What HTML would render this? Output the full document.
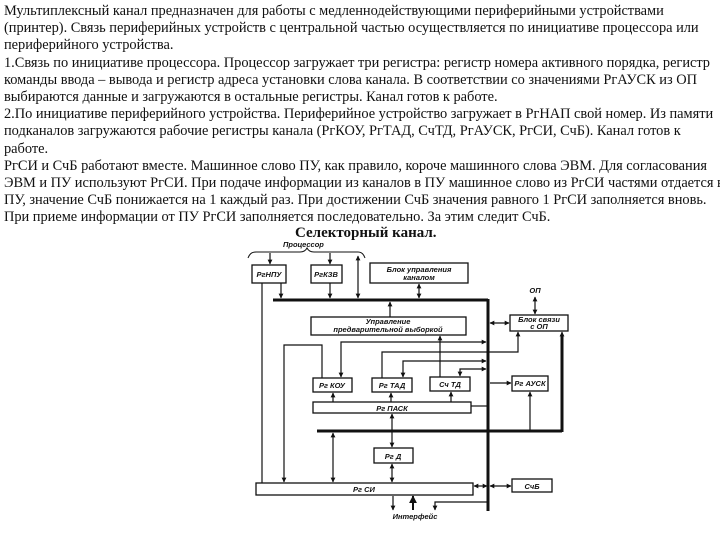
<!DOCTYPE html>
<html><head><meta charset="utf-8"><style>
html,body{margin:0;padding:0;background:#fff;width:720px;height:540px;overflow:hidden}
#t{position:absolute;left:4px;top:3px;font-family:"Liberation Serif","Noto Serif CJK SC",serif;font-size:14.4px;line-height:17.2px;color:#111;white-space:nowrap;letter-spacing:-0.02px}
svg{position:absolute;left:0;top:0}
.l{font-family:"Liberation Sans",sans-serif;font-style:italic;font-weight:bold;font-size:7.5px;fill:#111}
</style></head><body>
<div id="t">Мультиплексный канал предназначен для работы с медленнодействующими периферийными устройствами<br>(принтер). Связь периферийных устройств с центральной частью осуществляется по инициативе процессора или<br>периферийного устройства.<br>1.Связь по инициативе процессора. Процессор загружает три регистра: регистр номера активного порядка, регистр<br>команды ввода – вывода и регистр адреса установки слова канала. В соответствии со значениями РгАУСК из ОП<br>выбираются данные и загружаются в остальные регистры. Канал готов к работе.<br>2.По инициативе периферийного устройства. Периферийное устройство загружает в РгНАП свой номер. Из памяти<br>подканалов загружаются рабочие регистры канала (РгКОУ, РгТАД, СчТД, РгАУСК, РгСИ, СчБ). Канал готов к<br>работе.<br>РгСИ и СчБ работают вместе. Машинное слово ПУ, как правило, короче машинного слова ЭВМ. Для согласования<br>ЭВМ и ПУ используют РгСИ. При подаче информации из каналов в ПУ машинное слово из РгСИ частями отдается в<br>ПУ, значение СчБ понижается на 1 каждый раз. При достижении СчБ значения равного 1 РгСИ заполняется вновь.<br>При приеме информации от ПУ РгСИ заполняется последовательно. За этим следит СчБ.</div>
<svg width="720" height="540" viewBox="0 0 720 540">
<defs><marker id="a" viewBox="0 0 10 10" refX="9" refY="5" markerWidth="4" markerHeight="4" orient="auto-start-reverse"><path d="M0,0L10,5L0,10z" fill="#111"/></marker></defs>
<text x="295" y="237" font-family="Liberation Serif,serif" font-size="15" font-weight="bold" fill="#111">Селекторный канал.</text>
<text x="283" y="247" class="l">Процессор</text>
<path d="M248,258 Q250,252 256,252 L300,252 Q305,252 307,248 Q309,252 314,252 L358,252 Q363,252 365,258" fill="none" stroke="#111" stroke-width="1"/>
<g fill="#fff" stroke="#111" stroke-width="1.3">
<rect x="252" y="265" width="34" height="18"/><rect x="311" y="265" width="31" height="18"/>
<rect x="370" y="263" width="98" height="20"/><rect x="311" y="317" width="155" height="18"/>
<rect x="510" y="315" width="58" height="16"/><rect x="313" y="378" width="39" height="14"/>
<rect x="372" y="378" width="40" height="14"/><rect x="430" y="377" width="40" height="14"/>
<rect x="512" y="376" width="36" height="15"/><rect x="313" y="402" width="158" height="11"/>
<rect x="374" y="448" width="39" height="15"/><rect x="256" y="483" width="217" height="12"/>
<rect x="512" y="479" width="40" height="13"/>
</g>
<g class="l" text-anchor="middle">
<text x="269" y="277">РгНПУ</text><text x="326" y="277">РгКЗВ</text>
<text x="419" y="272">Блок управления</text><text x="419" y="280">каналом</text>
<text x="388" y="324">Управление</text><text x="388" y="332">предварительной выборкой</text>
<text x="539" y="322">Блок связи</text><text x="539" y="329">с ОП</text>
<text x="535" y="293">ОП</text>
<text x="332" y="388">Рг КОУ</text><text x="392" y="388">Рг ТАД</text><text x="450" y="387">Сч ТД</text>
<text x="530" y="386">Рг АУСК</text><text x="392" y="411">Рг ПАСК</text>
<text x="393" y="459">Рг Д</text><text x="364" y="492">Рг СИ</text><text x="532" y="489">СчБ</text>
<text x="415" y="519">Интерфейс</text>
</g>
<g stroke="#111" fill="none">
<path d="M273,300H488" stroke-width="3"/>
<path d="M488,299V511" stroke-width="3"/>
<path d="M317,431H562" stroke-width="3"/>
<path d="M562,335V432" stroke-width="3"/>
</g>
<g stroke="#111" fill="none" stroke-width="1.2">
<path d="M270,253V264" marker-end="url(#a)"/><path d="M330,253V264" marker-end="url(#a)"/>
<path d="M281,283V298" marker-end="url(#a)"/><path d="M330,283V298" marker-end="url(#a)"/>
<path d="M358,256V298" marker-start="url(#a)" marker-end="url(#a)"/>
<path d="M419,284V298" marker-start="url(#a)" marker-end="url(#a)"/>
<path d="M390,317V302" marker-end="url(#a)"/>
<path d="M535,297V314" marker-start="url(#a)" marker-end="url(#a)"/>
<path d="M490,323H509" marker-start="url(#a)" marker-end="url(#a)"/>
<path d="M562,345V332" marker-end="url(#a)"/>
<path d="M341,377V342H486" marker-start="url(#a)" marker-end="url(#a)"/>
<path d="M382,378V352H518V332" marker-end="url(#a)"/>
<path d="M403,377V361H486" marker-start="url(#a)" marker-end="url(#a)"/>
<path d="M460,376V369H486" marker-start="url(#a)" marker-end="url(#a)"/>
<path d="M440,377V336" marker-end="url(#a)"/>
<path d="M322,378V345H284V482" marker-end="url(#a)"/>
<path d="M262,283V483"/>
<path d="M490,383H511" marker-end="url(#a)"/>
<path d="M530,431V392" marker-end="url(#a)"/>
<path d="M333,402V393" marker-end="url(#a)"/><path d="M391,402V393" marker-end="url(#a)"/><path d="M451,402V392" marker-end="url(#a)"/>
<path d="M471,406H487"/>
<path d="M333,433V482" marker-start="url(#a)" marker-end="url(#a)"/>
<path d="M392,414V447" marker-start="url(#a)" marker-end="url(#a)"/>
<path d="M392,464V482" marker-start="url(#a)" marker-end="url(#a)"/>
<path d="M474,486H487" marker-start="url(#a)" marker-end="url(#a)"/>
<path d="M490,486H511" marker-start="url(#a)" marker-end="url(#a)"/>
<path d="M393,496V510" marker-end="url(#a)"/>
<path d="M413,510V496" marker-end="url(#a)" stroke-width="2"/>
<path d="M488,502H435V510" marker-end="url(#a)"/>
</g>
</svg>
</body></html>
